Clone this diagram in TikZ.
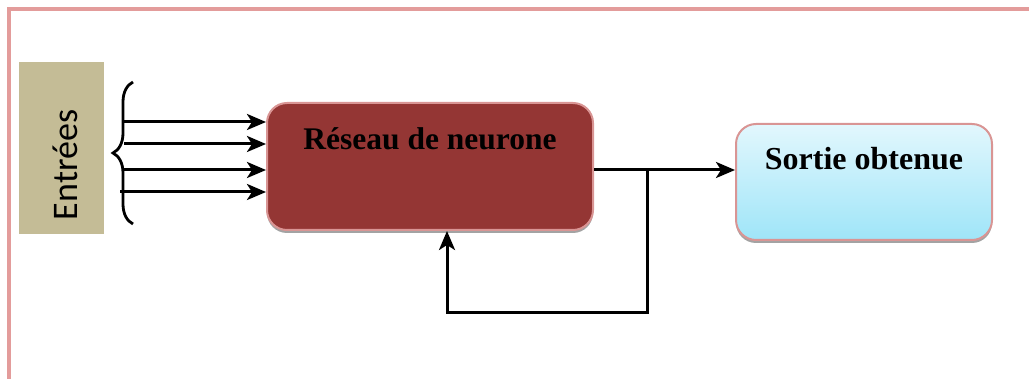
\documentclass[tikz,border=0pt]{standalone}
\usepackage{fontspec}
\setmainfont{Liberation Serif}
\newfontfamily\labelsans{Carlito}
\usetikzlibrary{arrows.meta,decorations.pathreplacing,shadows}
\definecolor{framepink}{HTML}{E39C9B}
\definecolor{edgepink}{HTML}{D99594}
\definecolor{tan}{HTML}{C4BC96}
\definecolor{netred}{HTML}{943634}
\definecolor{skytop}{HTML}{E2F7FD}
\definecolor{skybot}{HTML}{9FE5F8}
\tikzset{
  frameline/.style={draw=framepink, line width=3.2pt},
  inbox/.style={rectangle, fill=tan, draw=none, inner sep=0pt},
  block/.style={rectangle, rounded corners=20pt, draw=edgepink, line width=2pt,
    inner sep=0pt, drop shadow={shadow xshift=0pt, shadow yshift=-3pt, fill=black!45, opacity=0.8}},
  title/.style={font=\bfseries\fontsize{31.5}{36}\selectfont, anchor=base, inner sep=0pt},
  flow/.style={draw=black, line width=3pt},
  arrowtip/.style={-{Stealth[length=19pt,width=16pt,inset=5pt]}},
}
\begin{document}
\begin{tikzpicture}[x=1pt, y=-1pt]
  \useasboundingbox (0,0) rectangle (1029,379);

  % page frame (top and left edges)
  \draw[frameline] (9,379) -- (9,9) -- (1029,9);

  % inputs block
  \node[inbox, minimum width=85pt, minimum height=172pt] (entrees) at (61.5,148) {};
  \node[anchor=base, rotate=90, inner sep=0pt, font=\labelsans\fontsize{36}{40}\selectfont] (entreesLabel) at (77,165) {Entrées};

  % brace grouping the inputs
  \coordinate (braceBot) at (133,224);
  \coordinate (braceTop) at (133,82);
  \draw[line width=2.8pt, decorate, decoration={brace, amplitude=20pt}] (braceBot) -- (braceTop);

  % neural network block
  \node[block, fill=netred, minimum width=326pt, minimum height=127pt] (net) at (430,166.5) {};
  \node[title] (netLabel) at (430,150) {Réseau de neurone};

  % output block
  \node[block, top color=skytop, bottom color=skybot, minimum width=256pt, minimum height=116pt] (sortie) at (864,182) {};
  \node[title, font=\bfseries\fontsize{32}{36}\selectfont] (sortieLabel) at (864,170) {Sortie obtenue};

  % input arrows
  \coordinate (in1) at (124,122);
  \coordinate (in2) at (124,144);
  \coordinate (in3) at (122,170);
  \coordinate (in4) at (120,192);
  \foreach \i in {1,...,4} {
    \draw[flow, arrowtip] (in\i) -- (in\i -| net.west);
  }

  % output and feedback loop
  \coordinate (branch) at (647,170);
  \coordinate (fbL) at (447,313);
  \draw[flow, arrowtip] (net.east |- branch) -- (sortie.west |- branch);
  \draw[flow, arrowtip, line join=miter] (branch) |- (fbL) -- (fbL |- net.south);
\end{tikzpicture}
\end{document}
